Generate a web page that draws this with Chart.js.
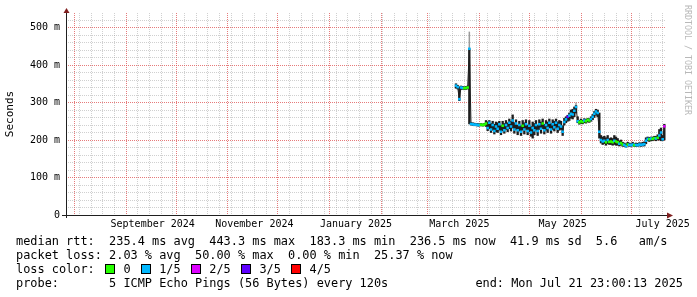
<!DOCTYPE html>
<html>
<head>
<meta charset="utf-8">
<script src="https://cdn.jsdelivr.net/npm/chart.js@4.4.1/dist/chart.umd.min.js"></script>
<style>
  html, body { margin: 0; padding: 0; background: #fff; }
  #wrap { position: relative; width: 697px; height: 297px; overflow: hidden; }
  #wrap canvas { position: absolute; left: 0; top: 0; }
  .legend { position: absolute; left: 16px; top: 234px; margin: 0; font: 11.9px/14px "DejaVu Sans Mono", monospace; color: #000; white-space: pre; }
  .box { display: inline-block; width: 8px; height: 8px; border: 1px solid #000; vertical-align: -1px; margin-left: -4px; margin-right: calc(1ch - 6px); }
  .end { position: absolute; right: 14px; top: 276px; font: 11.9px/14px "DejaVu Sans Mono", monospace; color: #000; white-space: pre; }
  .mark { position: absolute; left: 683px; top: 5px; font: 8.3px "DejaVu Sans Mono", monospace; color: #b8b8b8; writing-mode: vertical-rl; white-space: pre; }
</style>
</head>
<body>
<div id="wrap">
  <canvas id="myChart" width="697" height="297"></canvas>
  <pre class="legend">median rtt:  235.4 ms avg  443.3 ms max  183.3 ms min  236.5 ms now  41.9 ms sd  5.6   am/s
packet loss: 2.03 % avg  50.00 % max  0.00 % min  25.37 % now
loss color:  <span class="box" style="background:#26ff00"></span> 0  <span class="box" style="background:#00b8ff"></span> 1/5  <span class="box" style="background:#dd00ff"></span> 2/5  <span class="box" style="background:#5e00ff"></span> 3/5  <span class="box" style="background:#ff0000"></span> 4/5
probe:       5 ICMP Echo Pings (56 Bytes) every 120s</pre>
  <div class="end">end: Mon Jul 21 23:00:13 2025</div>
  <div class="mark">RRDTOOL / TOBI OETIKER</div>
</div>
<script>
// days counted from the graph start (Jul 26 2024 23:00), 360 days shown
const days = [
  234, 235, 236, 237, 238, 239, 240, 241, 242, 243,
  244, 245, 246, 247, 248, 249, 250, 251, 252, 253,
  254, 255, 256, 257, 258, 259, 260, 261, 262, 263,
  264, 265, 266, 267, 268, 269, 270, 271, 272, 273,
  274, 275, 276, 277, 278, 279, 280, 281, 282, 283,
  284, 285, 286, 287, 288, 289, 290, 291, 292, 293,
  294, 295, 296, 297, 298, 299, 300, 301, 302, 303,
  304, 305, 306, 307, 308, 309, 310, 311, 312, 313,
  314, 315, 316, 317, 318, 319, 320, 321, 322, 323,
  324, 325, 326, 327, 328, 329, 330, 331, 332, 333,
  334, 335, 336, 337, 338, 339, 340, 341, 342, 343,
  344, 345, 346, 347, 348, 349, 350, 351, 352, 353,
  354, 355, 356, 357, 358, 359
];
// median rtt in ms
const median = [
  345, 341, 309, 340, 339, 338, 339, 340, 443.3, 243,
  242, 241, 241, 240, 240, 241, 240, 241, 244, 232,
  246, 228, 240, 224, 236, 230, 242, 222, 238, 226,
  240, 232, 246, 236, 252, 228, 244, 226, 240, 222,
  238, 228, 242, 224, 238, 220, 232, 226, 240, 224,
  242, 230, 244, 226, 240, 232, 246, 228, 242, 234,
  246, 230, 240, 236, 222, 248, 255, 262, 265, 270,
  268, 278, 288, 250, 247, 250, 248, 252, 250, 254,
  252, 256, 262, 270, 276, 272, 222, 200, 196, 198,
  194, 200, 195, 196, 194, 198, 196, 194, 190, 192,
  188, 187, 183.3, 188, 187, 186, 188, 186, 187, 186,
  188, 187, 188, 189, 198, 203, 202, 204, 203, 205,
  204, 206, 212, 220, 202, 236.5
];
// smoke spread (dense part of the pings)
const smokeLo = [
  338, 336, 305, 335, 335, 334, 335, 336, 243, 240,
  239, 238, 238, 237, 237, 238, 237, 238, 236, 225,
  230, 220, 226, 216, 222, 220, 226, 214, 224, 218,
  228, 222, 230, 224, 232, 218, 228, 214, 224, 212,
  226, 216, 228, 214, 222, 210, 205, 214, 226, 212,
  228, 218, 230, 216, 226, 220, 232, 218, 228, 224,
  232, 220, 226, 228, 212, 240, 246, 250, 252, 258,
  256, 262, 272, 246, 242, 244, 243, 246, 245, 248,
  247, 250, 254, 260, 266, 262, 205, 192, 188, 190,
  186, 190, 188, 188, 186, 188, 186, 186, 184, 186,
  183, 183, 181, 184, 183, 183, 184, 183, 183, 183,
  184, 183, 184, 184, 190, 198, 196, 198, 198, 200,
  198, 200, 200, 198, 198, 200
];
const smokeHi = [
  350, 346, 342, 344, 343, 342, 343, 344, 443.3, 247,
  246, 245, 244, 244, 243, 244, 243, 244, 252, 248,
  252, 244, 250, 242, 248, 246, 250, 238, 250, 244,
  252, 246, 256, 250, 267, 246, 254, 240, 250, 238,
  252, 246, 254, 240, 252, 236, 248, 244, 252, 240,
  254, 248, 256, 242, 252, 248, 256, 244, 254, 250,
  256, 248, 252, 250, 238, 258, 262, 266, 272, 280,
  282, 288, 292, 262, 252, 256, 253, 257, 255, 258,
  257, 262, 268, 276, 282, 280, 272, 212, 208, 210,
  206, 212, 204, 206, 204, 212, 208, 204, 198, 200,
  194, 192, 190, 194, 192, 190, 194, 190, 192, 191,
  193, 192, 194, 195, 206, 208, 207, 208, 208, 210,
  210, 214, 228, 232, 212, 242
];
// lost pings out of 5
const loss = [
  1, 1, 1, 1, 1, 0, 0, 0, 1, 1,
  1, 1, 1, 1, 1, 0, 0, 0, 0, 1,
  1, 1, 1, 1, 1, 1, 1, 1, 0, 1,
  1, 1, 1, 1, 1, 1, 1, 1, 1, 1,
  0, 1, 1, 1, 1, 1, 1, 1, 1, 1,
  1, 1, 0, 1, 1, 1, 1, 1, 1, 1,
  1, 1, 1, 1, 1, 1, 1, 3, 1, 1,
  1, 1, 1, 1, 0, 0, 0, 1, 0, 0,
  0, 1, 1, 1, 1, 1, 1, 1, 1, 1,
  0, 1, 0, 0, 0, 1, 0, 0, 1, 0,
  0, 1, 1, 0, 1, 1, 1, 0, 1, 1,
  1, 1, 1, 1, 1, 1, 0, 1, 0, 0,
  1, 0, 1, 1, 1, 2
];
// sparse outer smoke (single slow pings)
const outerDays = [242, 306];
const outerLo = [443.3, 292];
const outerHi = [489, 300];

const lossColors = ['#26ff00', '#00b8ff', '#dd00ff', '#5e00ff', '#ff0000'];

const monthStarts = [5.04, 36.04, 66.04, 97.04, 127.04, 158.04, 189.04, 217.04, 248.04, 278.04, 309.04, 339.04];
const firstSunday = 8.04;
const monthLabelDays = [52, 113, 174, 236, 298, 358];
const monthLabels = ['September 2024', 'November 2024', 'January 2025', 'March 2025', 'May 2025', 'July 2025'];
const yLabelValues = [0, 100, 200, 300, 400, 500];
const yLabels = ['0', '100 m', '200 m', '300 m', '400 m', '500 m'];

const MONO = '"DejaVu Sans Mono", monospace';
const GRID = 'rgba(143,143,143,0.42)';
const MGRID = 'rgba(222,79,79,0.75)';

function buildXTicks() {
  const grid = [];
  for (let d = firstSunday; d < 360; d += 7) {
    if (!monthStarts.some(m => Math.abs(m - d) < 0.5)) grid.push({ value: d, kind: 'week' });
  }
  monthStarts.forEach(m => grid.push({ value: m, kind: 'month' }));
  grid.sort((a, b) => a.value - b.value);
  const labels = monthLabelDays.map((d, i) => ({ value: d, kind: 'label', text: monthLabels[i] }));
  // keep text ticks away from the ends so no extra padding is added
  return [grid[0], ...labels, ...grid.slice(1)];
}

function buildYTicks() {
  const t = [];
  for (let v = 0; v <= 520; v += 20) {
    const k = yLabelValues.indexOf(v);
    t.push({ value: v, text: k >= 0 ? yLabels[k] : '' });
  }
  return t;
}

const axisArrows = {
  id: 'axisArrows',
  afterDraw(chart) {
    const { ctx, chartArea: a } = chart;
    const x0 = a.left + 0.5, y0 = a.bottom + 0.5;
    ctx.save();
    ctx.strokeStyle = '#1f1f1f';
    ctx.lineWidth = 1;
    ctx.beginPath();
    ctx.moveTo(a.left - 4, y0); ctx.lineTo(a.right + 2, y0);
    ctx.moveTo(x0, a.bottom + 3); ctx.lineTo(x0, a.top);
    ctx.stroke();
    ctx.fillStyle = '#801f1f';
    ctx.beginPath();
    ctx.moveTo(x0 - 3, a.top); ctx.lineTo(x0 + 3, a.top); ctx.lineTo(x0, a.top - 5);
    ctx.fill();
    ctx.beginPath();
    ctx.moveTo(a.right + 1, y0 - 3); ctx.lineTo(a.right + 1, y0 + 3); ctx.lineTo(a.right + 7, y0);
    ctx.fill();
    ctx.restore();
  }
};

const graph = document.getElementById('myChart').getContext('2d');
let myChart = new Chart(graph, {
  type: 'bar',
  data: {
    datasets: [
      {
        type: 'line',
        label: 'median rtt',
        data: days.map((d, i) => ({ x: d, y: median[i] })),
        borderColor: '#1e1e1e',
        borderWidth: 1,
        pointStyle: 'rect',
        pointRadius: 1.8,
        pointBorderWidth: 0,
        pointBackgroundColor: loss.map(l => lossColors[l]),
        order: 0,
      },
      {
        label: 'smoke',
        data: days.map((d, i) => ({ x: d, y: [smokeLo[i], smokeHi[i]] })),
        backgroundColor: '#1e1e1e',
        grouped: false,
        barPercentage: 1,
        categoryPercentage: 1,
        order: 1,
      },
      {
        label: 'outer smoke',
        data: outerDays.map((d, i) => ({ x: d, y: [outerLo[i], outerHi[i]] })),
        backgroundColor: '#9a9a9a',
        grouped: false,
        barPercentage: 0.9,
        categoryPercentage: 1,
        order: 2,
      },
    ],
  },
  options: {
    responsive: false,
    animation: false,
    devicePixelRatio: 1,
    layout: { padding: { top: 13, right: 31, bottom: 62, left: 0 } },
    plugins: { legend: { display: false }, tooltip: { enabled: false } },
    scales: {
      x: {
        type: 'linear',
        min: 0,
        max: 360,
        offset: false,
        afterBuildTicks: scale => { scale.ticks = buildXTicks(); },
        afterFit: scale => { scale.height = 20; scale.paddingLeft = 0; scale.paddingRight = 0; },
        border: { display: false, dash: [1, 1] },
        grid: {
          offset: false,
          drawTicks: false,
          color: c => !c.tick ? 'rgba(0,0,0,0)' : c.tick.kind === 'month' ? MGRID : c.tick.kind === 'week' ? GRID : 'rgba(0,0,0,0)',
        },
        ticks: {
          autoSkip: false,
          maxRotation: 0,
          padding: 3,
          color: '#000',
          font: { family: MONO, size: 10 },
          callback: (v, i, ticks) => ticks[i].text || '',
        },
      },
      y: {
        min: 0,
        max: 538.7,
        afterBuildTicks: scale => { scale.ticks = buildYTicks(); },
        afterFit: scale => { scale.width = 66; scale.paddingTop = 0; scale.paddingBottom = 0; },
        border: { display: false, dash: [1, 1] },
        grid: {
          drawTicks: false,
          color: c => !c.tick ? 'rgba(0,0,0,0)' : c.tick.value % 100 === 0 ? MGRID : GRID,
        },
        ticks: {
          autoSkip: false,
          padding: 6,
          color: '#000',
          font: { family: MONO, size: 10 },
          callback: (v, i, ticks) => ticks[i].text,
        },
        title: {
          display: true,
          text: 'Seconds',
          color: '#000',
          font: { family: MONO, size: 11 },
          padding: { top: 4, bottom: 0 },
        },
      },
    },
  },
  plugins: [axisArrows],
});
</script>
</body>
</html>
